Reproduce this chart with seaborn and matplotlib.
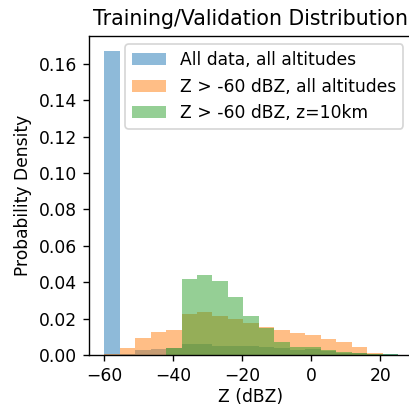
import numpy as np
import pandas as pd
import matplotlib
matplotlib.use("Agg")
import matplotlib.pyplot as plt
import seaborn as sns
from matplotlib.patches import Patch

# Histogram bin edges (dBZ)
bin_start = -60.0
bin_width = 4.48
n_bins = 20
bin_edges = bin_start + bin_width * np.arange(n_bins + 1)
bin_centers = 0.5 * (bin_edges[:-1] + bin_edges[1:])

# Probability density per bin
all_data = [0.1670, 0.0003, 0.0026, 0.0032, 0.0040, 0.0058, 0.0058, 0.0052, 0.0052, 0.0047,
            0.0042, 0.0036, 0.0029, 0.0031, 0.0020, 0.0012, 0.0009, 0.0003, 0.0003, 0.0002]
z_gt60_all = [0.0006, 0.0036, 0.0091, 0.0129, 0.0140, 0.0228, 0.0234, 0.0217, 0.0200, 0.0178,
              0.0156, 0.0139, 0.0123, 0.0112, 0.0090, 0.0073, 0.0046, 0.0013, 0.0002, 0.0]
z_gt60_10km = [0.0, 0.0, 0.0, 0.0, 0.0040, 0.0415, 0.0437, 0.0409, 0.0316, 0.0216,
               0.0146, 0.0073, 0.0046, 0.0042, 0.0029, 0.0018, 0.0013, 0.0003, 0.0003, 0.0]

labels = ["All data, all altitudes", "Z > -60 dBZ, all altitudes", "Z > -60 dBZ, z=10km"]
colors = ["#1f77b4", "#ff7f0e", "#2ca02c"]
series = [all_data, z_gt60_all, z_gt60_10km]

W, H = 409, 407
DPI = 123
fig = plt.figure(figsize=(W / DPI, H / DPI), dpi=DPI)
ax = fig.add_axes([89 / W, 52 / H, (411.5 - 89) / W, (355 - 35.6) / H])

for vals, col in zip(series, colors):
    df = pd.DataFrame({"z": bin_centers, "w": vals})
    sns.histplot(data=df, x="z", weights="w", bins=[float(b) for b in bin_edges],
                 stat="count", color=col, alpha=0.5, linewidth=0, ax=ax)

ax.set_xlim(-64.4, 29.0)
ax.set_ylim(0, 0.1755)
ax.set_xticks([-60, -40, -20, 0, 20])
ax.set_yticks([0.00, 0.02, 0.04, 0.06, 0.08, 0.10, 0.12, 0.14, 0.16])
ax.yaxis.set_major_formatter(matplotlib.ticker.FormatStrFormatter("%.2f"))
ax.set_xlabel("Z (dBZ)", fontsize=10, labelpad=1.5)
ax.set_ylabel("Probability Density", fontsize=10)
ax.set_title("Training/Validation Distribution", fontsize=12)
ax.tick_params(labelsize=10)

handles = [Patch(facecolor=c, alpha=0.5, label=l) for c, l in zip(colors, labels)]
ax.legend(handles=handles, loc="upper right", fontsize=10)

fig.savefig("out.png", dpi=DPI)
